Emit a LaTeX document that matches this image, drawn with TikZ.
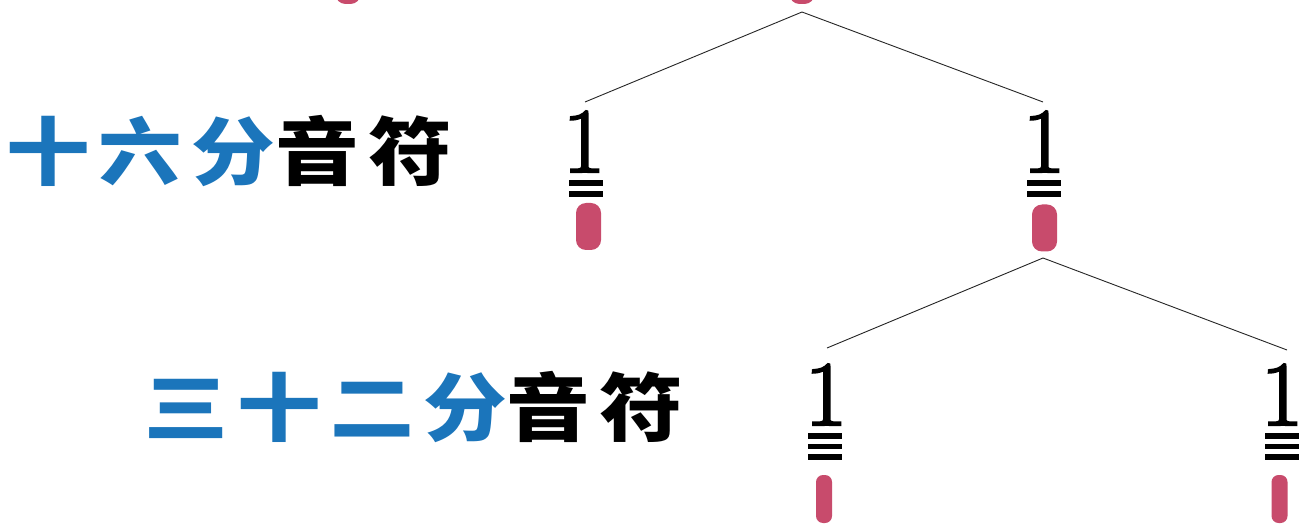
\documentclass[tikz,border=0pt]{standalone}
\usepackage{fontspec}
\newfontfamily\cjk{Noto Sans CJK SC}
\newfontfamily\numfont[FakeBold=2.5]{Latin Modern Roman}
\definecolor{nblue}{HTML}{1B75BB}
\definecolor{npink}{HTML}{C84B6C}
\begin{document}
\begin{tikzpicture}[x=1pt,y=-1pt,
  widepill/.style={rectangle,rounded corners=10pt,fill=npink,inner sep=0pt,minimum width=25pt,minimum height=47pt},
  thinpill/.style={rectangle,rounded corners=7pt,fill=npink,inner sep=0pt,minimum width=16pt,minimum height=48pt},
  digit/.style={inner sep=0pt,anchor=base,font=\numfont\fontsize{92}{92}\selectfont},
  beam/.style={rectangle,fill=black,inner sep=0pt,minimum width=34pt,minimum height=5.5pt},
  branch/.style={draw=black!85,line width=0.9pt},
  lab/.style={inner sep=0pt,font=\cjk\bfseries\fontsize{74}{74}\selectfont\addfontfeatures{LetterSpace=11}}
]
\useasboundingbox (0,0) rectangle (1305,526);
\fill[white] (0,0) rectangle (1305,526);
\begin{scope}
\clip (0,0) rectangle (1305,526);
\node[widepill] (t1) at (348,-19.5) {};
\node[widepill] (t2) at (802,-19.5) {};
\end{scope}

% labels
\node[lab] (l1) at (229,151) {\scalebox{1.13}[1]{\textcolor{nblue}{十六分}音符}};
\node[lab] (l2) at (414,407) {\scalebox{1.13}[1]{\textcolor{nblue}{三十二分}音符}};

% row 1 notes
\node[digit] (d1) at (584,172) {1};
\node[beam] (b1a) at (586,183) {};
\node[beam] (b1b) at (586,194) {};
\node[widepill] (p1) at (588.5,226.5) {};

\node[digit] (d2) at (1044,172) {1};
\node[beam] (b2a) at (1044,183) {};
\node[beam] (b2b) at (1044,194) {};
\node[widepill] (p2) at (1044.5,228) {};

% row 2 notes
\node[digit] (d3) at (826,425) {1};
\node[beam] (b3a) at (825,436) {};
\node[beam] (b3b) at (825,446.5) {};
\node[beam] (b3c) at (825,457) {};
\node[thinpill] (p3) at (824,499) {};

\node[digit] (d4) at (1282,425) {1};
\node[beam] (b4a) at (1282,436) {};
\node[beam] (b4b) at (1282,446.5) {};
\node[beam] (b4c) at (1282,457) {};
\node[thinpill] (p4) at (1279.5,499) {};

% branch points
\coordinate (ap1) at (802,12);
\coordinate (e1) at (585,102);
\coordinate (e2) at (1043,102);
\coordinate (ap2) at (1043,258);
\coordinate (e3) at (827,348);
\coordinate (e4) at (1287,350);
\draw[branch] (e1) -- (ap1) -- (e2);
\draw[branch] (e3) -- (ap2) -- (e4);
\end{tikzpicture}
\end{document}
